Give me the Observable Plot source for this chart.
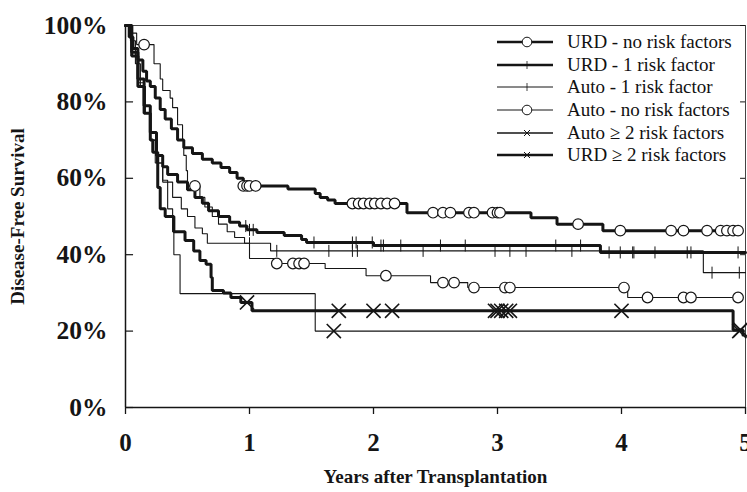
<!DOCTYPE html>
<html><head><meta charset="utf-8">
<script src="https://cdn.jsdelivr.net/npm/d3@7"></script>
<script src="https://cdn.jsdelivr.net/npm/@observablehq/plot@0.6"></script>
<style>
body{margin:0;background:#fff;}
#wrap{position:relative;width:747px;height:492px;overflow:hidden;}
#legend{position:absolute;left:495px;top:31px;font-family:"Liberation Serif","Times New Roman",serif;font-size:19px;color:#111;}
.row{display:flex;align-items:center;height:22.6px;white-space:nowrap;}
.row svg{width:58px;height:22px;margin-right:14px;flex:none;}
</style></head><body><div id="wrap"><div id="legend"></div></div>
<script>
// ---- data (years, % disease-free) ----
const seriesNames = ["URD - no risk factors","URD - 1 risk factor","Auto - 1 risk factor","Auto - no risk factors","Auto \u2265 2 risk factors","URD \u2265 2 risk factors"];

const urd0Steps = [[0,100],[0.03,97],[0.06,94],[0.1,91],[0.14,88],[0.17,85.5],[0.2,84],[0.24,81],[0.28,78],[0.32,75.5],[0.37,73],[0.42,70],[0.47,68],[0.54,66.5],[0.62,65],[0.7,64],[0.77,62.8],[0.84,61.5],[0.9,60],[0.95,58],[1.31,57.2],[1.53,56],[1.57,55],[1.63,54.3],[1.69,53.4],[2.27,51],[3.27,49.7],[3.48,48],[3.85,46.3],[4.97,46.3]];
const urd0Censor = [0.95,0.98,1.0,1.05,1.83,1.88,1.92,1.97,2.01,2.06,2.11,2.17,2.48,2.56,2.62,2.77,2.81,2.96,3.0,3.02,3.65,3.99,4.4,4.5,4.69,4.8,4.85,4.9,4.94];

const urd1Steps = [[0,100],[0.05,93],[0.1,86],[0.15,79],[0.2,72],[0.25,66],[0.3,63],[0.34,61],[0.42,59],[0.5,57],[0.56,55],[0.62,53.5],[0.67,51.5],[0.75,50],[0.84,48.5],[0.92,47.5],[0.98,46.5],[1.06,45.8],[1.28,45],[1.42,44],[1.46,43.2],[2.0,42.4],[3.83,40.6],[5,40.6]];
const urd1Censor = [0.97,1.0,1.03,1.52,1.83,1.86,1.99,2.06,2.08,2.22,2.54,2.74,3.47,3.67,3.9,3.99,4.09,4.1,4.27,4.53,4.56,4.94];

const auto1Steps = [[0,100],[0.04,96],[0.08,90],[0.12,84],[0.16,77],[0.2,70],[0.24,64],[0.3,59],[0.38,55],[0.45,52],[0.5,50],[0.56,47],[0.62,45.5],[0.66,43],[1.17,41],[4.66,35.3],[5,35.3]];
const auto1Censor = [1.0,1.22,1.64,1.83,1.87,2.4,2.98,3.1,3.23,3.6,4.73,4.95];

const auto0Steps = [[0,100],[0.04,98],[0.09,95],[0.23,90],[0.28,86],[0.3,83],[0.36,81],[0.38,78.5],[0.42,74],[0.46,70],[0.47,66],[0.49,62],[0.5,58],[0.6,55],[0.64,52.5],[0.7,50],[0.75,48],[0.82,46],[0.88,44.5],[0.96,43],[1.0,39],[1.2,37.7],[1.61,36.4],[1.94,34.5],[2.46,32.7],[2.76,31.4],[4.05,28.8],[4.97,28.8]];
const auto0Censor = [0.15,0.56,1.22,1.35,1.4,1.44,2.1,2.56,2.65,2.81,3.06,3.1,4.02,4.21,4.5,4.56,4.94];

const auto2Steps = [[0,100],[0.05,93],[0.1,85],[0.15,77],[0.2,70],[0.25,64],[0.3,59.5],[0.34,52],[0.38,46],[0.39,40],[0.44,29.8],[1.53,20],[4.97,20]];
const auto2Censor = [1.68,4.95];

const urd2Steps = [[0,100],[0.05,92],[0.1,84],[0.15,77],[0.2,70],[0.22,66.8],[0.26,57.6],[0.28,52],[0.32,50],[0.39,46],[0.48,43.7],[0.55,41],[0.6,38.5],[0.65,37.5],[0.69,34],[0.7,30.6],[0.79,30],[0.85,28.8],[0.93,27.5],[1.02,25.3],[4.9,20.3],[4.98,19]];
const urd2Censor = [0.98,1.72,2.0,2.15,2.98,3.0,3.03,3.07,3.1,4.0,4.96];

const xTicks = [0,1,2,3,4,5];
const yTicks = [0,20,40,60,80,100];

// ---- build ----
const ink = "#151515";
const serif = "'Liberation Serif','Times New Roman',serif";
const vtick = {draw(ctx, size){const h = Math.sqrt(size/Math.PI); ctx.moveTo(0,-h); ctx.lineTo(0,h);}};
const survAt = (steps, t) => { let s = steps[0][1]; for (const [tt, v] of steps) { if (tt <= t) s = v; } return s; };
const toRows = steps => steps.map(([t, s]) => ({t, s}));
const cens = (steps, ts) => ts.map(t => ({t, s: survAt(steps, t)}));

const series = [
  {steps: urd0Steps, censor: urd0Censor, sw: 3, mk: "circle"},
  {steps: urd1Steps, censor: urd1Censor, sw: 3, mk: "tick"},
  {steps: auto1Steps, censor: auto1Censor, sw: 1.1, mk: "tick"},
  {steps: auto0Steps, censor: auto0Censor, sw: 1.1, mk: "circle"},
  {steps: auto2Steps, censor: auto2Censor, sw: 1.1, mk: "times"},
  {steps: urd2Steps, censor: urd2Censor, sw: 3, mk: "times"}
];

const marks = [
  Plot.frame({stroke: "#444", strokeWidth: 1}),
  Plot.ruleX([0], {stroke: ink, strokeWidth: 1.5}),
  Plot.ruleY([0], {stroke: ink, strokeWidth: 1.5}),
  Plot.ruleY(yTicks, {x1: 0, x2: 0.065, stroke: ink, strokeWidth: 1.2}),
  Plot.ruleY(yTicks, {x1: 4.96, x2: 5, stroke: ink, strokeWidth: 1}),
  Plot.axisX(xTicks, {tickSize: 7, tickPadding: 19, tickFormat: d => String(d), fontSize: 25, fontWeight: "bold", fontFamily: serif, fill: ink, stroke: ink, strokeWidth: 1.3, label: null}),
  Plot.axisY(yTicks, {tickSize: 0, tickPadding: 18, tickFormat: d => d + "%", fontSize: 25.5, fontWeight: "bold", fontFamily: serif, fill: ink, label: null}),
  Plot.text(["Years after Transplantation"], {frameAnchor: "bottom", dy: 75, fontSize: 19, fontWeight: "bold", fontFamily: serif, fill: ink, textAnchor: "middle"}),
  Plot.text(["Disease-Free Survival"], {frameAnchor: "left", dx: -108, rotate: -90, fontSize: 19, fontWeight: "bold", fontFamily: serif, fill: ink, textAnchor: "middle"})
];
for (const sr of series) {
  marks.push(Plot.line(toRows(sr.steps), {x: "t", y: "s", curve: "step-after", stroke: ink, strokeWidth: sr.sw, strokeLinejoin: "miter"}));
}
for (const sr of series) {
  const d = cens(sr.steps, sr.censor);
  if (sr.mk === "circle") marks.push(Plot.dot(d, {x: "t", y: "s", r: 5.3, fill: "white", stroke: ink, strokeWidth: 1.2}));
  if (sr.mk === "times") marks.push(Plot.dot(d, {x: "t", y: "s", symbol: "times", r: 6.5, stroke: ink, strokeWidth: 1.6}));
  if (sr.mk === "tick") marks.push(Plot.dot(d, {x: "t", y: "s", symbol: vtick, r: 6, stroke: ink, strokeWidth: 1}));
}

const chart = Plot.plot({
  width: 747, height: 492,
  marginLeft: 125, marginRight: 2, marginTop: 25, marginBottom: 85,
  x: {domain: [0, 5]},
  y: {domain: [0, 100]},
  style: {fontFamily: serif, background: "white", overflow: "visible"},
  marks
});
document.getElementById("wrap").prepend(chart);

// ---- legend ----
const legend = d3.select("#legend");
series.forEach((sr, i) => {
  const row = legend.append("div").attr("class", "row");
  const svg = row.append("svg").attr("viewBox", "0 0 58 22");
  svg.append("line").attr("x1", 2).attr("x2", 58).attr("y1", 11).attr("y2", 11).attr("stroke", ink).attr("stroke-width", sr.sw >= 3 ? 2.6 : (sr.mk === "times" ? 1.4 : 1));
  if (sr.mk === "circle") svg.append("circle").attr("cx", 32).attr("cy", 11).attr("r", 4.8).attr("fill", "white").attr("stroke", ink).attr("stroke-width", 1);
  if (sr.mk === "tick") svg.append("line").attr("x1", 32).attr("x2", 32).attr("y1", 7).attr("y2", 15).attr("stroke", ink).attr("stroke-width", 0.8);
  if (sr.mk === "times") svg.append("path").attr("d", "M29,8L35,14M35,8L29,14").attr("stroke", ink).attr("stroke-width", 1);
  row.append("span").text(seriesNames[i]);
});
</script></body></html>
